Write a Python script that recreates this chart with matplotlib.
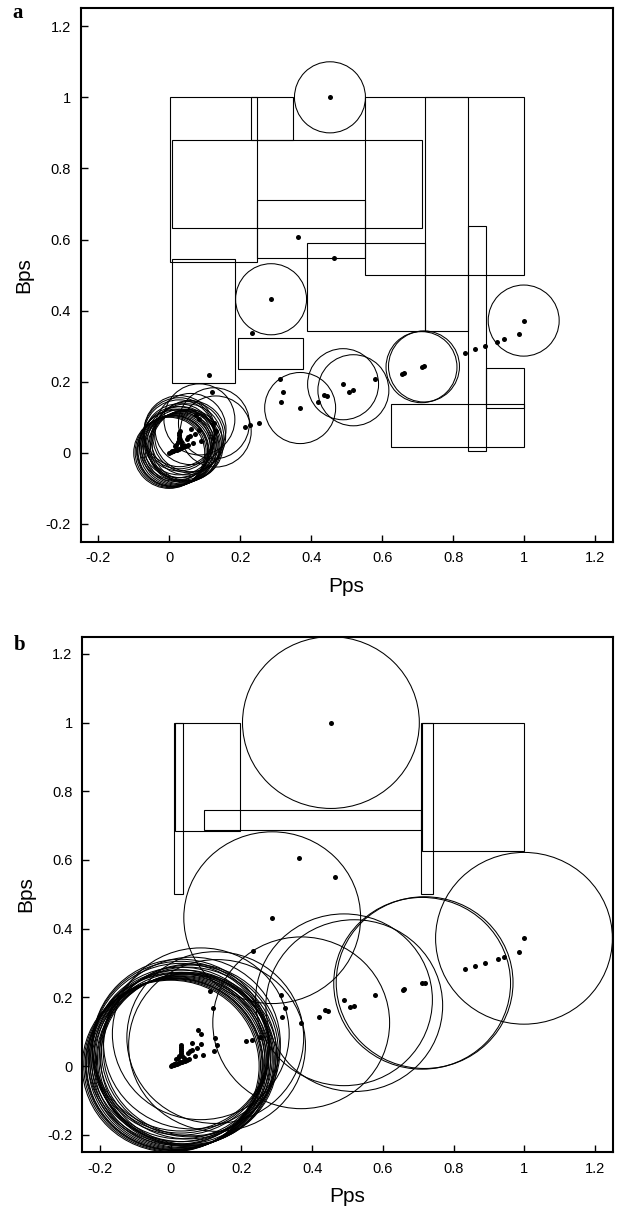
import matplotlib
matplotlib.use("Agg")
import matplotlib.pyplot as plt
from matplotlib.patches import Circle, Rectangle

# ---------------- data ----------------
# trail points (Pps, Bps)
trail_x = [0.453, 0.364, 0.465, 0.287, 0.232, 0.111, 0.120, 0.126, 0.131, 0.123,
           0.214, 0.229, 0.252, 0.311, 0.322, 0.316, 0.369, 0.418, 0.436, 0.444,
           0.490, 0.508, 0.519, 0.579, 0.656, 0.661, 0.711, 0.718, 0.833, 0.861,
           0.889, 0.925, 0.943, 0.986, 0.999]
trail_y = [1.000, 0.607, 0.549, 0.432, 0.336, 0.219, 0.170, 0.083, 0.060, 0.043,
           0.074, 0.077, 0.085, 0.208, 0.170, 0.143, 0.126, 0.142, 0.164, 0.161,
           0.193, 0.172, 0.176, 0.207, 0.222, 0.224, 0.241, 0.243, 0.282, 0.291,
           0.300, 0.313, 0.319, 0.333, 0.372]

# cluster points near the origin
cluster_x = [0.076, 0.085, 0.060, 0.085, 0.073, 0.090, 0.068, 0.054, 0.049, 0.059,
             0.029, 0.028, 0.028, 0.028, 0.028, 0.037, 0.043, 0.016, 0.020, 0.000,
             0.004, 0.008, 0.012, 0.017, 0.022, 0.027, 0.032, 0.040, 0.047, 0.052,
             0.010, 0.024, 0.033]
cluster_y = [0.106, 0.094, 0.067, 0.065, 0.052, 0.033, 0.028, 0.044, 0.038, 0.047,
             0.061, 0.055, 0.049, 0.043, 0.038, 0.023, 0.018, 0.020, 0.023, 0.000,
             0.002, 0.004, 0.005, 0.007, 0.009, 0.011, 0.013, 0.016, 0.019, 0.022,
             0.006, 0.030, 0.030]

# circle centres (same centres in both panels)
circle_x = [0.453, 0.287, 0.999, 0.711, 0.718, 0.490, 0.519, 0.369, 0.126, 0.085,
            0.131, 0.060, 0.054, 0.049, 0.059, 0.029, 0.028, 0.028, 0.028, 0.037,
            0.043, 0.016, 0.020, 0.000, 0.004, 0.008, 0.012, 0.017, 0.022, 0.027,
            0.032, 0.040, 0.047, 0.052, 0.010, 0.024, 0.033]
circle_y = [1.000, 0.432, 0.372, 0.241, 0.243, 0.193, 0.176, 0.126, 0.083, 0.094,
            0.060, 0.067, 0.044, 0.038, 0.047, 0.061, 0.055, 0.049, 0.038, 0.023,
            0.018, 0.020, 0.023, 0.000, 0.002, 0.004, 0.005, 0.007, 0.009, 0.011,
            0.013, 0.016, 0.019, 0.022, 0.006, 0.030, 0.030]
radius_a = 0.1
radius_b = 0.25

# rectangles (x0, x1, y0, y1)
rect_a_x0 = [0.002, 0.230, 0.007, 0.248, 0.553, 0.721, 0.389, 0.842, 0.007, 0.194, 0.625, 0.894]
rect_a_x1 = [0.248, 0.349, 0.713, 0.553, 0.999, 0.842, 0.721, 0.894, 0.186, 0.378, 0.999, 0.999]
rect_a_y0 = [0.538, 0.879, 0.632, 0.548, 0.500, 0.344, 0.344, 0.004, 0.196, 0.235, 0.016, 0.126]
rect_a_y1 = [1.000, 1.000, 0.879, 0.711, 1.000, 1.000, 0.590, 0.637, 0.544, 0.324, 0.137, 0.238]

rect_b_x0 = [0.009, 0.011, 0.094, 0.708, 0.712]
rect_b_x1 = [0.035, 0.195, 0.707, 0.742, 0.999]
rect_b_y0 = [0.501, 0.685, 0.688, 0.501, 0.627]
rect_b_y1 = [1.000, 1.000, 0.746, 1.000, 1.000]

ticks = [-0.2, 0, 0.2, 0.4, 0.6, 0.8, 1, 1.2]
tick_labels = ["-0.2", "0", "0.2", "0.4", "0.6", "0.8", "1", "1.2"]

# ---------------- drawing ----------------
plt.rcParams['font.family'] = ['Liberation Sans', 'DejaVu Sans']

fig = plt.figure(figsize=(6.18, 12.07), dpi=100)
ax_a = fig.add_axes([0.1303, 0.5512, 0.8612, 0.4418])
ax_b = fig.add_axes([0.1332, 0.0456, 0.8583, 0.4269])


def style(ax):
    ax.set_xlim(-0.25, 1.25)
    ax.set_ylim(-0.25, 1.25)
    ax.set_xticks(ticks)
    ax.set_yticks(ticks)
    ax.set_xticklabels(tick_labels)
    ax.set_yticklabels(tick_labels)
    ax.tick_params(direction='in', length=5, width=1.0, labelsize=10.5,
                   top=False, right=False, pad=7)
    for sp in ax.spines.values():
        sp.set_linewidth(1.5)
    ax.set_xlabel('Pps', fontsize=15, labelpad=8)
    ax.set_ylabel('Bps', fontsize=15, labelpad=9)


def draw(ax, radius, rx0, rx1, ry0, ry1):
    for x0, x1, y0, y1 in zip(rx0, rx1, ry0, ry1):
        ax.add_patch(Rectangle((x0, y0), x1 - x0, y1 - y0, fill=False,
                               edgecolor='black', linewidth=0.8))
    for cx, cy in zip(circle_x, circle_y):
        ax.add_patch(Circle((cx, cy), radius, fill=False,
                            edgecolor='black', linewidth=0.75))
    ax.scatter(trail_x, trail_y, s=13, color='black', zorder=5, linewidths=0)
    ax.scatter(cluster_x, cluster_y, s=13, color='black', zorder=5, linewidths=0)
    style(ax)


draw(ax_a, radius_a, rect_a_x0, rect_a_x1, rect_a_y0, rect_a_y1)
draw(ax_b, radius_b, rect_b_x0, rect_b_x1, rect_b_y0, rect_b_y1)

fig.text(0.029, 0.989, 'a', fontsize=15, fontweight='bold',
         family=['Liberation Serif', 'DejaVu Serif'], va='center', ha='center')
fig.text(0.031, 0.4655, 'b', fontsize=15, fontweight='bold',
         family=['Liberation Serif', 'DejaVu Serif'], va='center', ha='center')

fig.savefig('out.png', dpi=100)
